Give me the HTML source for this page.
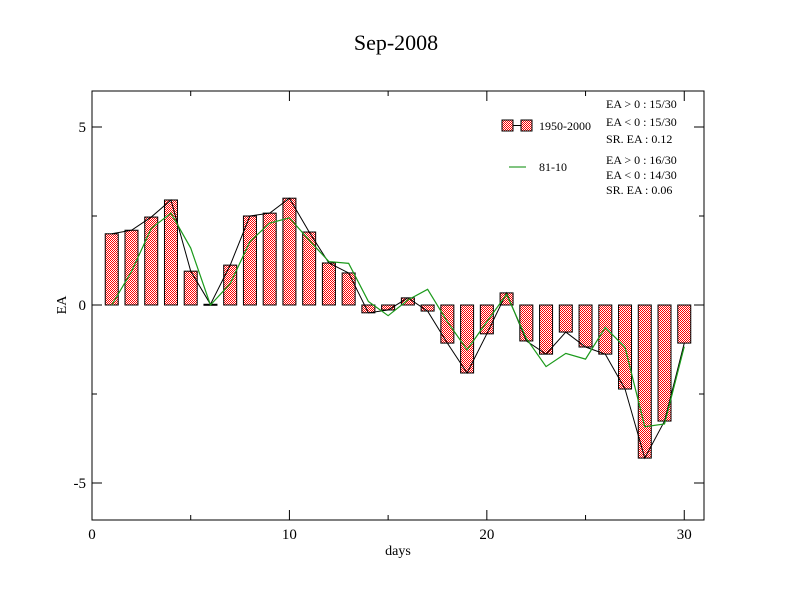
<!DOCTYPE html>
<html><head><meta charset="utf-8"><style>
body{margin:0;background:#fff;}
svg{display:block;font-family:"Liberation Serif",serif;}
</style></head><body>
<svg id="chart" width="792" height="612" viewBox="0 0 792 612" xmlns="http://www.w3.org/2000/svg">
<defs>
<pattern id="chk" width="2" height="2" patternUnits="userSpaceOnUse">
<rect width="2" height="2" fill="#fff"/><rect width="1" height="1" fill="#f00"/><rect x="1" y="1" width="1" height="1" fill="#f00"/>
</pattern>
</defs>
<text x="396" y="50" font-size="22" text-anchor="middle">Sep-2008</text>
<rect x="92" y="91" width="612" height="429" fill="none" stroke="#000" stroke-width="1"/>
<g id="plot"></g>
<text x="398" y="555" font-size="14" text-anchor="middle">days</text>
<text x="66" y="305" font-size="14" text-anchor="middle" transform="rotate(-90 66 305)">EA</text>
<g font-size="12">
<rect x="502" y="120" width="11" height="11" fill="url(#chk)" stroke="#000"/>
<line x1="513" y1="125.5" x2="521" y2="125.5" stroke="#000"/>
<rect x="521" y="120" width="11" height="11" fill="url(#chk)" stroke="#000"/>
<text x="539" y="130">1950-2000</text>
<line x1="509" y1="167" x2="526" y2="167" stroke="#080" stroke-width="1"/>
<text x="539" y="171">81-10</text>
<text x="606" y="108">EA &gt; 0 : 15/30</text>
<text x="606" y="126">EA &lt; 0 : 15/30</text>
<text x="606" y="143">SR. EA :  0.12</text>
<text x="606" y="164">EA &gt; 0 : 16/30</text>
<text x="606" y="179">EA &lt; 0 : 14/30</text>
<text x="606" y="194">SR. EA :  0.06</text>
</g>
</svg>
<script>
const days=[1,2,3,4,5,6,7,8,9,10,11,12,13,14,15,16,17,18,19,20,21,22,23,24,25,26,27,28,29,30];
const ea5000=[2.0,2.1,2.47,2.95,0.95,0.02,1.12,2.5,2.58,3.0,2.05,1.18,0.9,-0.22,-0.14,0.2,-0.17,-1.07,-1.91,-0.81,0.34,-1.01,-1.38,-0.76,-1.18,-1.38,-2.36,-4.3,-3.26,-1.07];
const ea8110=[0.0,0.94,2.15,2.58,1.6,0.0,0.6,1.78,2.3,2.45,1.82,1.22,1.17,0.1,-0.3,0.14,0.44,-0.47,-1.26,-0.47,0.3,-0.94,-1.73,-1.36,-1.52,-0.63,-1.19,-3.42,-3.34,-1.17];
const xTicks=[0,10,20,30];
const yTicks=[-5,0,5];
const NS="http://www.w3.org/2000/svg";
const X=v=>92+v*(612/31);
const Y=v=>305-v*(429/12.05);
const g=document.getElementById('plot');
function mk(t,a){const e=document.createElementNS(NS,t);for(const k in a)e.setAttribute(k,a[k]);g.appendChild(e);return e;}
// ticks
for(let i=0;i<=31;i++){
 const major=i%10===0;const x=X(i);
 if(i%5!==0)continue;
 const l=mk('line',{x1:x,x2:x,y1:520,y2:major?510:515,stroke:'#000'});
 
 
 const l2=mk('line',{x1:x,x2:x,y1:91,y2:major?101:96,stroke:'#000'});
 
 
}
xTicks.forEach(v=>{const t=mk('text',{x:X(v),y:539,'font-size':15,'text-anchor':'middle'});t.textContent=v;
 
 });
for(let v=-5;v<=5;v+=2.5){
 const major=v%5===0;const y=Y(v);
 const l=mk('line',{x1:92,x2:major?102:97,y1:y,y2:y,stroke:'#000'});
 
 
 const l2=mk('line',{x1:704,x2:major?694:699,y1:y,y2:y,stroke:'#000'});
 
 
}
yTicks.forEach(v=>{const t=mk('text',{x:86,y:Y(v)+5,'font-size':15,'text-anchor':'end'});t.textContent=v;
 
 });
// bars
days.forEach((d,i)=>{
 const v=ea5000[i];const y0=Y(0),y1=Y(v);
 const r=mk('rect',{x:X(d)-6.5,y:Math.min(y0,y1),width:13,height:Math.max(Math.abs(y1-y0),1),fill:'url(#chk)',stroke:'#000','stroke-width':1});
 
 
});
const p1=mk('polyline',{points:days.map((d,i)=>X(d)+','+Y(ea5000[i])).join(' '),fill:'none',stroke:'#000','stroke-width':1});


const p2=mk('polyline',{points:days.map((d,i)=>X(d)+','+Y(ea8110[i])).join(' '),fill:'none',stroke:'#1a9a1a','stroke-width':1.2});


</script>
</body></html>
